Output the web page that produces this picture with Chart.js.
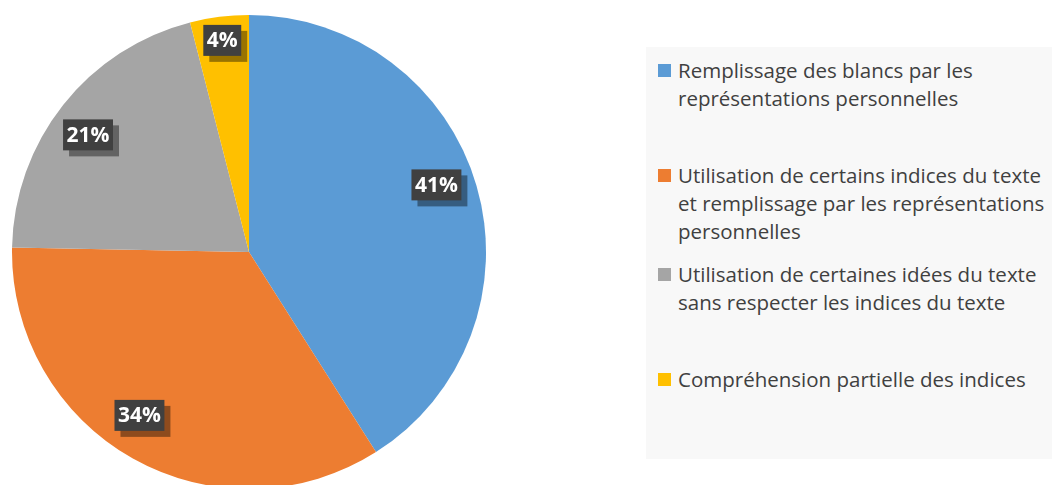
<!DOCTYPE html>
<html>
<head>
<meta charset="utf-8">
<script src="https://cdn.jsdelivr.net/npm/chart.js@4.4.1/dist/chart.umd.min.js"></script>
<style>
  html, body { margin: 0; padding: 0; background: #ffffff; overflow: hidden; }
  #stage { position: relative; width: 1052px; height: 485px; overflow: hidden; }
  #pieWrap { position: absolute; left: 0; top: 0; width: 500px; height: 500px; }
  #legend { position: absolute; left: 646px; top: 47px; width: 406px; height: 412px; background: #f8f8f8; overflow: hidden; }
  .item { position: absolute; left: 12px; width: 394px; font-family: "Open Sans", sans-serif; font-size: 20.5px; line-height: 28px; color: #404040; padding-left: 20px; white-space: nowrap; }
  .sw { position: absolute; left: 0; top: 7.5px; width: 13px; height: 13px; }
</style>
</head>
<body>
<div id="stage">
  <div id="pieWrap"><canvas id="c"></canvas></div>
  <div id="legend"></div>
</div>
<script>
const categories = [
  "Remplissage des blancs par les représentations personnelles",
  "Utilisation de certains indices du texte et remplissage par les représentations personnelles",
  "Utilisation de certaines idées du texte sans respecter les indices du texte",
  "Compréhension partielle des indices"
];
const values = [41, 34.3, 20.7, 4.0];
const colors = ["#5B9BD5", "#ED7D31", "#A5A5A5", "#FFC000"];
const legendLines = [
  ["Remplissage des blancs par les", "représentations personnelles"],
  ["Utilisation de certains indices du texte", "et remplissage par les représentations", "personnelles"],
  ["Utilisation de certaines idées du texte", "sans respecter les indices du texte"],
  ["Compréhension partielle des indices"]
];

// layout-only settings (not data)
const legendTops = [9, 114, 213, 318];
const labelRadius = [0.84, 0.83, 0.84, 0.90];
const labelAngleShift = [-3.5, 4.5, -2.3, 0]; // degrees

const leg = document.getElementById('legend');
categories.forEach((cat, i) => {
  const d = document.createElement('div');
  d.className = 'item';
  d.style.top = legendTops[i] + 'px';
  d.title = cat;
  const sw = document.createElement('span');
  sw.className = 'sw';
  sw.style.background = colors[i];
  d.appendChild(sw);
  d.insertAdjacentHTML('beforeend', legendLines[i].join('<br>'));
  leg.appendChild(d);
});

const labelPlugin = {
  id: 'boxLabels',
  afterDatasetsDraw(chart) {
    const ctx = chart.ctx;
    const meta = chart.getDatasetMeta(0);
    const total = values.reduce((a, b) => a + b, 0);
    ctx.save();
    ctx.font = 'bold 21px "Open Sans", sans-serif';
    ctx.textAlign = 'center';
    ctx.textBaseline = 'middle';
    meta.data.forEach((arc, i) => {
      const p = arc.getProps(['x', 'y', 'startAngle', 'endAngle', 'outerRadius'], true);
      const mid = (p.startAngle + p.endAngle) / 2 + labelAngleShift[i] * Math.PI / 180;
      const r = p.outerRadius * labelRadius[i];
      const cx = p.x + Math.cos(mid) * r;
      const cy = p.y + Math.sin(mid) * r;
      const txt = Math.round(values[i] / total * 100) + '%';
      const w = ctx.measureText(txt).width + 7;
      const h = 31;
      ctx.fillStyle = 'rgba(0,0,0,0.4)';
      ctx.fillRect(cx - w / 2 + 6, cy - h / 2 + 6, w, h);
      ctx.fillStyle = '#404040';
      ctx.fillRect(cx - w / 2, cy - h / 2, w, h);
      ctx.fillStyle = '#ffffff';
      ctx.fillText(txt, cx, cy + 1);
    });
    ctx.restore();
  }
};

new Chart(document.getElementById('c'), {
  type: 'pie',
  data: {
    labels: categories,
    datasets: [{
      data: values,
      backgroundColor: colors,
      borderWidth: 0
    }]
  },
  options: {
    responsive: true,
    maintainAspectRatio: false,
    animation: false,
    layout: { padding: { left: 12, right: 14, top: 15, bottom: 11 } },
    plugins: {
      legend: { display: false },
      tooltip: { enabled: false }
    }
  },
  plugins: [labelPlugin]
});
</script>
</body>
</html>
